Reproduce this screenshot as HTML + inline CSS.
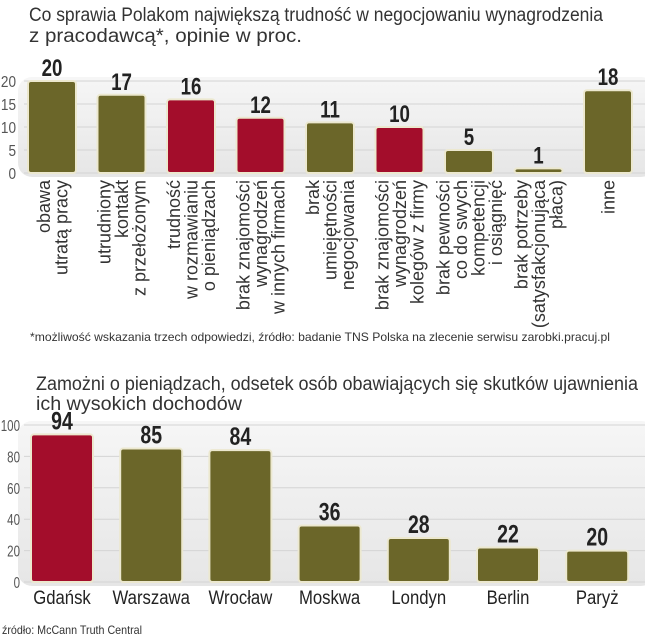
<!DOCTYPE html>
<html><head><meta charset="utf-8"><style>
body{margin:0;background:#fff;}
svg{display:block;font-family:"Liberation Sans",sans-serif;}
</style></head><body>
<svg id="s" width="645" height="640" viewBox="0 0 645 640">
<defs>
<linearGradient id="bg" x1="0" y1="0" x2="0" y2="1"><stop offset="0" stop-color="#f6f6f6"/><stop offset="1" stop-color="#e6e6e6"/></linearGradient>
</defs>
<text x="29" y="21" font-size="19" fill="#333" textLength="574" lengthAdjust="spacingAndGlyphs">Co sprawia Polakom największą trudność w negocjowaniu wynagrodzenia</text>
<text x="29" y="42" font-size="19" fill="#333" textLength="273" lengthAdjust="spacingAndGlyphs">z pracodawcą*, opinie w proc.</text>
<g id="c1"></g>
<text x="30" y="341" font-size="12" fill="#333" textLength="580" lengthAdjust="spacingAndGlyphs">*możliwość wskazania trzech odpowiedzi, źródło: badanie TNS Polska na zlecenie serwisu zarobki.pracuj.pl</text>
<text x="36" y="390" font-size="19" fill="#333" textLength="602" lengthAdjust="spacingAndGlyphs">Zamożni o pieniądzach, odsetek osób obawiających się skutków ujawnienia</text>
<text x="36" y="410" font-size="19" fill="#333" textLength="206" lengthAdjust="spacingAndGlyphs">ich wysokich dochodów</text>
<g id="c2"></g>
<text x="2" y="634" font-size="12" fill="#333" textLength="140" lengthAdjust="spacingAndGlyphs">źródło: McCann Truth Central</text>
</svg>
<script>
const cats1 = [["obawa","utratą pracy"],["utrudniony","kontakt","z przełożonym"],["trudność","w rozmawianiu","o pieniądzach"],["brak znajomości","wynagrodzeń","w innych firmach"],["brak","umiejętności","negocjowania"],["brak znajomości","wynagrodzeń","kolegów z firmy"],["brak pewności","co do swych","kompetencji","i osiągnięć"],["brak potrzeby","(satysfakcjonująca","płaca)"],["inne"]];
const vals1 = [20,17,16,12,11,10,5,1,18];
const hi1 = [0,0,1,1,0,1,0,0,0];
const ticks1 = [0,5,10,15,20];
const cats2 = ["Gdańsk","Warszawa","Wrocław","Moskwa","Londyn","Berlin","Paryż"];
const vals2 = [94,85,84,36,28,22,20];
const hi2 = [1,0,0,0,0,0,0];
const ticks2 = [0,20,40,60,80,100];

const NS="http://www.w3.org/2000/svg";
function mk(p,t,a,txt){const e=document.createElementNS(NS,t);for(const k in a)e.setAttribute(k,a[k]);if(txt!=null)e.textContent=txt;p.appendChild(e);return e;}

function chart(g,cats,vals,hi,ticks,o){
  const y=v=>o.y0-(v-0)/(o.max)*(o.y0-o.ytop);
  const x=i=>o.x0+i*o.step;
  const bg=mk(g,'rect',{x:o.bgx,y:y(o.max)-4,width:645-o.bgx+10,height:o.y0-y(o.max)+8,rx:14,fill:'url(#bg)'});
  
  
  ticks.forEach(t=>{
    const l=mk(g,'line',{x1:o.bgx+6,x2:645,y1:y(t),y2:y(t),stroke:'#d4d4d4','stroke-width':1});
    
    
    const tg=mk(g,'g',{transform:`translate(${o.tickx},${y(t)+6}) scale(${o.tsc},1)`});
    const tx=mk(tg,'text',{x:0,y:0,'font-size':16,fill:'#555','text-anchor':'end'},t);
    
    
  });
  vals.forEach((v,i)=>{
    const cx=x(i);
    const r=mk(g,'rect',{x:cx-o.w/2,y:y(v),width:o.w,height:o.y0-y(v),rx:3,fill:hi[i]?'#a30d2b':'#6b6629',stroke:'#ece8cf','stroke-width':2});
    
    
    const vg=mk(g,'g',{transform:`translate(${cx},${y(v)-5}) scale(0.78,1)`});
    const vt=mk(vg,'text',{x:0,y:0,'font-size':o.vfs,'font-weight':'bold',fill:'#222','text-anchor':'middle'},v);
    
    
    if(o.rot){
      const lines=cats[i];
      const gg=mk(g,'g',{transform:`translate(${cx},${o.y0+7}) rotate(-90)`});
      const t=mk(gg,'text',{'font-size':18,fill:'#333','text-anchor':'end'});
      
      
      const n=lines.length;
      lines.forEach((ln,j)=>{mk(t,'tspan',{x:0,y:(j-(n-1)/2)*17.5+6.5},ln);});
    } else {
      const lg=mk(g,'g',{transform:`translate(${cx},${o.y0+22}) scale(0.88,1)`});
      const t=mk(lg,'text',{x:0,y:0,'font-size':19,fill:'#222','text-anchor':'middle'},cats[i]);
      
      
    }
  });
}
chart(document.getElementById('c1'),cats1,vals1,hi1,ticks1,{y0:173,ytop:81,max:20,x0:52,step:69.5,w:48,bgx:18,tickx:16,tsc:0.85,vfs:24,rot:true});
chart(document.getElementById('c2'),cats2,vals2,hi2,ticks2,{y0:582,ytop:425,max:100,x0:62,step:89.2,w:62,bgx:18,tickx:20,tsc:0.72,vfs:25,rot:false});
</script>
</body></html>
